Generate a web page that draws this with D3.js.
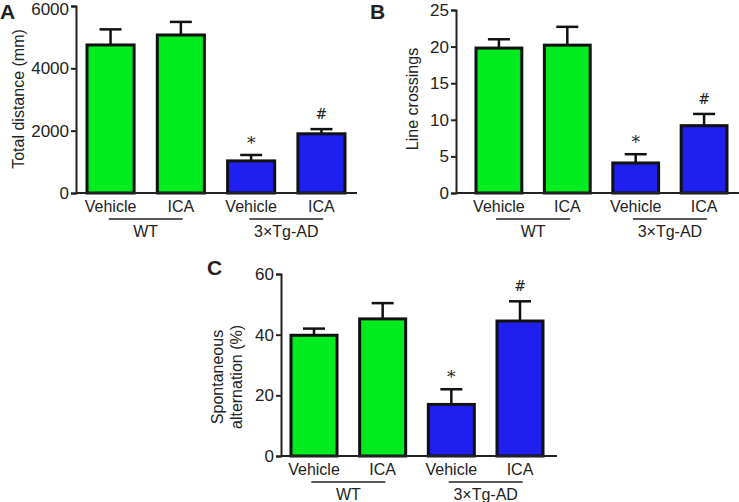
<!DOCTYPE html>
<html>
<head>
<meta charset="utf-8" />
<title>ICA behaviour bars</title>
<style>
  body { margin: 0; background: #fff; }
  text { font-family: "Liberation Sans", Arial, sans-serif; fill: #222; }
</style>
</head>
<body>
<div id="chart"></div>
<script src="https://d3js.org/d3.v7.min.js"></script>
<script>
(function(d3) {
'use strict';

var groups = ['Vehicle', 'ICA', 'Vehicle', 'ICA'];
var genotypes = ['WT', '3\u00d7Tg-AD'];
var barColors = ['#00ec1f', '#00ec1f', '#1f1ff0', '#1f1ff0'];

var distMean = [4750, 5070, 1030, 1900];
var distErr = [500, 420, 190, 150];
var distTicks = [0, 2000, 4000, 6000];
var distMarks = ['', '', '*', '#'];

var crossMean = [19.8, 20.2, 4.1, 9.2];
var crossErr = [1.2, 2.5, 1.2, 1.6];
var crossTicks = [0, 5, 10, 15, 20, 25];
var crossMarks = ['', '', '*', '#'];

var altMean = [39.8, 45.2, 17, 44.5];
var altErr = [2.2, 5.2, 5, 6.5];
var altTicks = [0, 20, 40, 60];
var altMarks = ['', '', '*', '#'];

var width = 739, height = 502;

var svg = d3.select('#chart')
  .append('svg')
  .attr('width', width)
  .attr('height', height);

function panel(opt) {
  var g = svg.append('g');
  var y = d3.scaleLinear().domain(opt.domain).range([opt.y0, opt.y1]);
  var x = d3.scaleBand()
    .domain(d3.range(groups.length))
    .range([opt.bx0, opt.bx1])
    .paddingInner(0.33)
    .paddingOuter(0.0);

  // y axis
  var yAxis = d3.axisLeft(y).tickValues(opt.ticks).tickFormat(d3.format('d'))
    .tickSize(5).tickPadding(2);
  var ya = g.append('g')
    .attr('transform', 'translate(' + opt.ax + ',0)')
    .call(yAxis);
  ya.select('.domain').attr('stroke', '#222').attr('stroke-width', 2);
  ya.selectAll('.tick line').attr('stroke', '#222').attr('stroke-width', 2);
  ya.selectAll('.tick text')
    .style('font-size', '17px')
    .style('font-family', '"Liberation Sans", Arial, sans-serif')
    .attr('fill', '#222')
    .attr('y', function(d) { return y(d) < 10 ? 3 : 0; });

  // error bars (upper only)
  var eb = g.selectAll('.err').data(opt.mean).enter().append('g');
  eb.append('line')
    .attr('x1', function(d, i) { return x(i) + x.bandwidth() / 2; })
    .attr('x2', function(d, i) { return x(i) + x.bandwidth() / 2; })
    .attr('y1', function(d) { return y(d); })
    .attr('y2', function(d, i) { return y(d + opt.err[i]); })
    .attr('stroke', '#111').attr('stroke-width', 2.5);
  eb.append('line')
    .attr('x1', function(d, i) { return x(i) + x.bandwidth() / 2 - 11; })
    .attr('x2', function(d, i) { return x(i) + x.bandwidth() / 2 + 11; })
    .attr('y1', function(d, i) { return y(d + opt.err[i]); })
    .attr('y2', function(d, i) { return y(d + opt.err[i]); })
    .attr('stroke', '#111').attr('stroke-width', 2.5);

  // bars
  g.selectAll('rect').data(opt.mean).enter().append('rect')
    .attr('x', function(d, i) { return x(i); })
    .attr('width', x.bandwidth())
    .attr('y', function(d) { return y(d); })
    .attr('height', function(d) { return y(0) - y(d); })
    .attr('fill', function(d, i) { return barColors[i]; })
    .attr('stroke', '#111')
    .attr('stroke-width', 3);

  // x axis line
  g.append('line')
    .attr('x1', opt.ax).attr('x2', opt.axEnd)
    .attr('y1', y(0)).attr('y2', y(0))
    .attr('stroke', '#222').attr('stroke-width', 2);

  // significance marks
  g.selectAll('.mark').data(opt.marks).enter().append('text')
    .attr('x', function(d, i) { return x(i) + x.bandwidth() / 2; })
    .attr('y', function(d, i) { return y(opt.mean[i] + opt.err[i]) - (d === '*' ? 6 : 10); })
    .attr('text-anchor', 'middle')
    .style('font-size', function(d) { return d === '*' ? '17px' : '14px'; })
    .style('font-family', '"DejaVu Serif", serif')
    .attr('fill', '#777')
    .text(function(d) { return d; });

  // category labels
  g.selectAll('.cat').data(groups).enter().append('text')
    .attr('x', function(d, i) { return x(i) + x.bandwidth() / 2; })
    .attr('y', y(0) + 19)
    .attr('text-anchor', 'middle')
    .style('font-size', '16px')
    .text(function(d) { return d; });

  // genotype underline + label
  genotypes.forEach(function(name, k) {
    var c = (x(2 * k) + x(2 * k + 1) + x.bandwidth()) / 2;
    g.append('line')
      .attr('x1', c - 37).attr('x2', c + 37)
      .attr('y1', y(0) + 26).attr('y2', y(0) + 26)
      .attr('stroke', '#222').attr('stroke-width', 1.5);
    g.append('text')
      .attr('x', c).attr('y', y(0) + 44)
      .attr('text-anchor', 'middle')
      .style('font-size', '16px')
      .text(name);
  });

  // y label
  var yl = g.append('text')
    .attr('transform', 'translate(' + opt.lx + ',' + opt.ly + ') rotate(-90)')
    .attr('text-anchor', 'middle')
    .style('font-size', '16px');
  opt.label.forEach(function(t, k) {
    yl.append('tspan').attr('x', 0).attr('dy', k === 0 ? 0 : 19).text(t);
  });

  // panel letter
  g.append('text')
    .attr('x', opt.px).attr('y', opt.py)
    .style('font-size', '21px').style('font-weight', 'bold')
    .attr('fill', '#111')
    .text(opt.letter);
}

panel({
  mean: distMean, err: distErr, ticks: distTicks, marks: distMarks,
  domain: [0, 6000], y0: 193, y1: 6,
  ax: 76, axEnd: 357, bx0: 87, bx1: 345,
  label: ['Total distance (mm)'], lx: 24, ly: 99,
  letter: 'A', px: 0, py: 19
});

panel({
  mean: crossMean, err: crossErr, ticks: crossTicks, marks: crossMarks,
  domain: [0, 25], y0: 193, y1: 10,
  ax: 456, axEnd: 739, bx0: 476, bx1: 727,
  label: ['Line crossings'], lx: 418, ly: 99,
  letter: 'B', px: 370, py: 19
});

panel({
  mean: altMean, err: altErr, ticks: altTicks, marks: altMarks,
  domain: [0, 60], y0: 456, y1: 274,
  ax: 281, axEnd: 557, bx0: 291, bx1: 543,
  label: ['Spontaneous', 'alternation (%)'], lx: 223, ly: 377,
  letter: 'C', px: 207, py: 275
});

})(window.d3);
</script>
</body>
</html>
